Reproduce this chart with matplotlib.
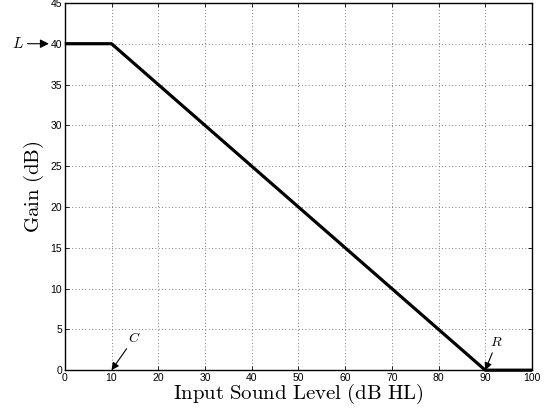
import matplotlib
matplotlib.use("Agg")
import matplotlib.pyplot as plt

x_vals = [0, 10, 90, 100]
gain_vals = [40, 40, 0, 0]
x_ticks = [0, 10, 20, 30, 40, 50, 60, 70, 80, 90, 100]
y_ticks = [0, 5, 10, 15, 20, 25, 30, 35, 40, 45]

plt.rcParams['mathtext.fontset'] = 'cm'
plt.rcParams['font.family'] = ['Liberation Sans', 'DejaVu Sans']

fig = plt.figure(figsize=(5.49, 4.15), dpi=100)
ax = fig.add_axes([0.118, 0.108, 0.851, 0.885])
ax.plot(x_vals, gain_vals, color='black', linewidth=2.3, solid_capstyle='butt', clip_on=False, zorder=3)
ax.set_xlim(0, 100)
ax.set_ylim(0, 45)
ax.set_xticks(x_ticks)
ax.set_yticks(y_ticks)
ax.tick_params(direction='in', length=3, labelsize=7.5, width=0.6, top=True, right=True, pad=2)
ax.grid(True, linestyle=(0, (1, 3)), color='#555555', linewidth=0.6)
for s in ax.spines.values():
    s.set_linewidth(1.0)

ax.set_xlabel(r'$\mathrm{Input\ Sound\ Level\ (dB\ HL)}$', fontsize=15, labelpad=-1)
ax.set_ylabel(r'$\mathrm{Gain\ (dB)}$', fontsize=15, labelpad=3)

ax.annotate(r'$L$', xy=(-3.4, 40), xytext=(-10.0, 40), fontsize=11,
            ha='center', va='center', annotation_clip=False,
            arrowprops=dict(arrowstyle='-|>', color='black', lw=0.8, mutation_scale=13, shrinkA=0.5, shrinkB=0))
ax.annotate(r'$C$', xy=(10, 0), xytext=(14.8, 3.9), fontsize=10,
            ha='center', va='center', annotation_clip=False,
            arrowprops=dict(arrowstyle='-|>', color='black', lw=0.8, mutation_scale=11, shrinkA=0.5, shrinkB=0))
ax.annotate(r'$R$', xy=(90, 0), xytext=(92.4, 3.4), fontsize=10,
            ha='center', va='center', annotation_clip=False,
            arrowprops=dict(arrowstyle='-|>', color='black', lw=0.8, mutation_scale=11, shrinkA=0.5, shrinkB=0))

fig.savefig('out.png', dpi=100)
